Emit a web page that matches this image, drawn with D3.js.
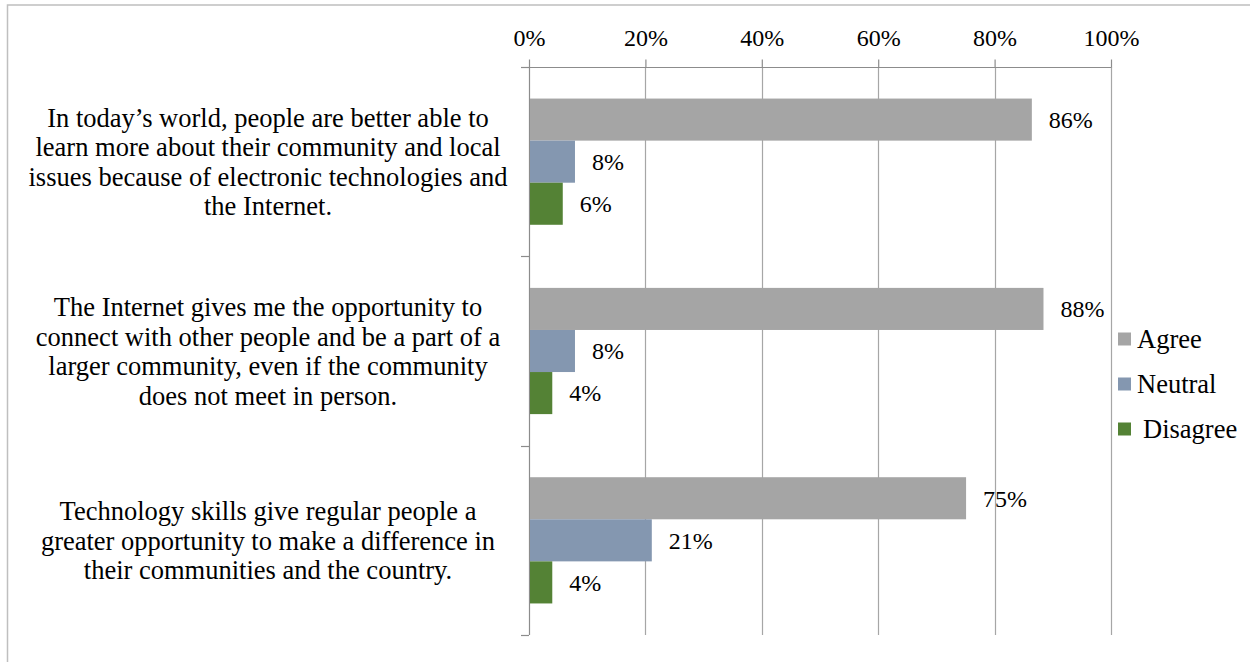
<!DOCTYPE html>
<html>
<head>
<meta charset="utf-8">
<script src="https://cdn.jsdelivr.net/npm/d3@7/dist/d3.min.js"></script>
<style>
  html, body { margin: 0; padding: 0; background: #fff; }
</style>
</head>
<body>
<svg id="chart" width="1250" height="662"></svg>
<script>
const categories = [
  "In today\u2019s world, people are better able to\nlearn more about their community and local\nissues because of electronic technologies and\nthe Internet.",
  "The Internet gives me the opportunity to\nconnect with other people and be a part of a\nlarger community, even if the community\ndoes not meet in person.",
  "Technology skills give regular people a\ngreater opportunity to make a difference in\ntheir communities and the country."
];
const seriesNames = ["Agree", "Neutral", "Disagree"];
const agree    = [0.864, 0.884, 0.751];
const neutral  = [0.079, 0.079, 0.211];
const disagree = [0.058, 0.040, 0.040];
const tickValues = [0, 0.2, 0.4, 0.6, 0.8, 1.0];
const colors = ["#a5a5a5", "#8497b0", "#548235"];

const seriesValues = [agree, neutral, disagree];
const FONT = '"Liberation Serif", "Times New Roman", Tinos, serif';
const svg = d3.select("#chart");

const W = 1250, H = 662;
const plot = { left: 529, right: 1111, top: 67, bottom: 635 };
const NUM_FS = 24, CAT_FS = 26.5, LEG_FS = 26.5;

// outer frame
svg.append("path")
  .attr("d", `M7.5,${H} L7.5,5 L${W},5`)
  .attr("fill", "none").attr("stroke", "#bfbfbf").attr("stroke-width", 1.5);

const x = d3.scaleLinear().domain([0, 1]).range([plot.left, plot.right]);
const y0 = d3.scaleBand().domain(d3.range(categories.length)).range([plot.top, plot.bottom]).padding(0);
const bw = y0.bandwidth();
const y1 = d3.scaleBand().domain(seriesNames).range([bw / 6, bw * 5 / 6]).padding(0);

// gridlines
svg.append("g").selectAll("line").data(tickValues.slice(1)).join("line")
  .attr("x1", d => Math.round(x(d)) + 0.5).attr("x2", d => Math.round(x(d)) + 0.5)
  .attr("y1", plot.top).attr("y2", plot.bottom)
  .attr("stroke", "#a6a6a6").attr("stroke-width", 1.2);

// top axis
const xAxis = d3.axisTop(x).tickValues(tickValues).tickFormat(d3.format(".0%")).tickSize(8).tickPadding(14);
const gx = svg.append("g").attr("transform", `translate(0,${plot.top + 0.5})`).call(xAxis);
gx.attr("font-family", null).attr("font-size", null);
gx.select(".domain").attr("stroke", "#8c8c8c").attr("stroke-width", 1.2)
  .attr("d", `M${plot.left - 8},0H${plot.right}`);
gx.selectAll(".tick line").attr("stroke", "#8c8c8c").attr("stroke-width", 1.2);
gx.selectAll(".tick text").attr("font-size", NUM_FS).attr("fill", "#000")
  .style("font-family", FONT);

// left axis line with boundary ticks
const boundaries = d3.range(categories.length + 1).map(i => plot.top + i * bw);
svg.append("line")
  .attr("x1", plot.left + 0.5).attr("x2", plot.left + 0.5)
  .attr("y1", plot.top).attr("y2", plot.bottom)
  .attr("stroke", "#8c8c8c").attr("stroke-width", 1.2);
svg.append("g").selectAll("line").data(boundaries).join("line")
  .attr("x1", plot.left - 8).attr("x2", plot.left)
  .attr("y1", d => Math.round(d) + 0.5).attr("y2", d => Math.round(d) + 0.5)
  .attr("stroke", "#8c8c8c").attr("stroke-width", 1.2);

// bars
const groups = svg.append("g").selectAll("g").data(categories).join("g")
  .attr("transform", (d, i) => `translate(0,${y0(i)})`);

groups.each(function(cat, ci) {
  const g = d3.select(this);
  seriesNames.forEach((s, si) => {
    const v = seriesValues[si][ci];
    g.append("rect")
      .attr("x", x(0) + 1)
      .attr("y", y1(s))
      .attr("width", x(v) - x(0) - 1)
      .attr("height", y1.bandwidth())
      .attr("fill", colors[si]);
    g.append("text")
      .attr("x", x(v) + 17)
      .attr("y", y1(s) + y1.bandwidth() / 2)
      .attr("dy", "0.35em")
      .attr("font-size", NUM_FS)
      .attr("fill", "#000")
      .style("font-family", FONT)
      .text(d3.format(".0%")(v));
  });
});

// category labels (wrapped, centered on band)
const lineH = 29.5;
groups.each(function(cat, ci) {
  const lines = cat.split("\n");
  const t = d3.select(this).append("text")
    .attr("text-anchor", "middle")
    .attr("font-size", CAT_FS)
    .attr("fill", "#000")
    .style("font-family", FONT);
  lines.forEach((ln, li) => {
    t.append("tspan")
      .attr("x", 268)
      .attr("y", bw / 2 + (li - (lines.length - 1) / 2) * lineH)
      .attr("dy", "0.35em")
      .text(ln);
  });
});

// legend
const legend = svg.append("g");
const legendY = d3.scalePoint().domain(seriesNames).range([339, 429]);
seriesNames.forEach((s, i) => {
  legend.append("rect")
    .attr("x", 1118).attr("y", legendY(s) - 6.5)
    .attr("width", 13).attr("height", 13)
    .attr("fill", colors[i]);
  legend.append("text")
    .attr("x", s === "Disagree" ? 1143 : 1137)
    .attr("y", legendY(s)).attr("dy", "0.35em")
    .attr("font-size", LEG_FS).attr("fill", "#000")
    .style("font-family", FONT)
    .text(s);
});
</script>
</body>
</html>
